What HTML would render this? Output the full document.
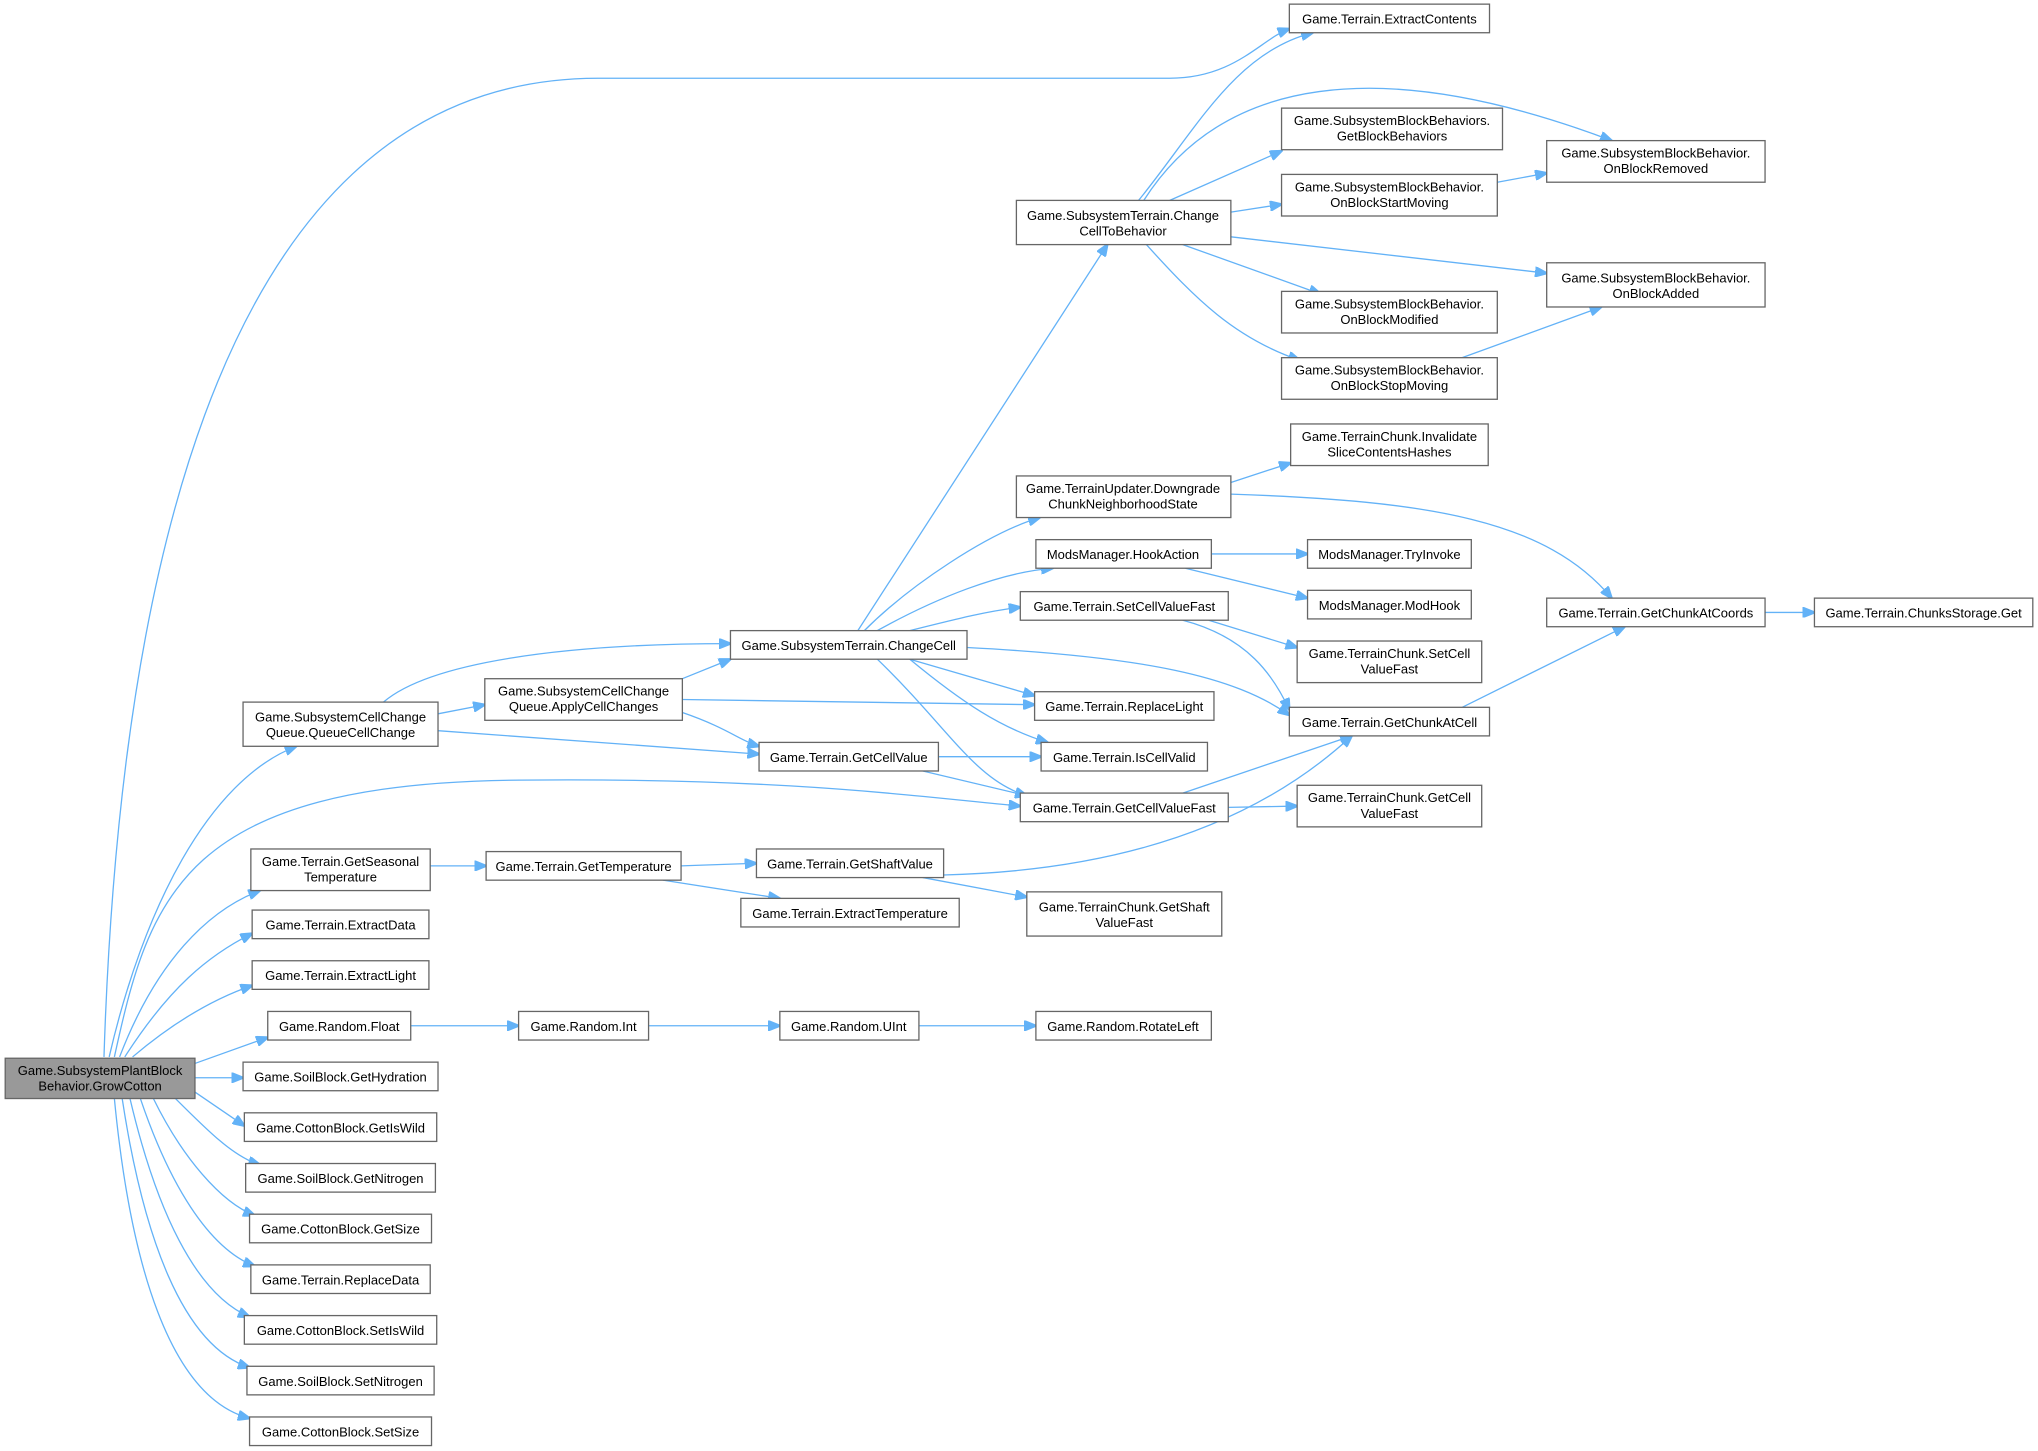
<!DOCTYPE html>
<html><head><meta charset="utf-8"><style>
html,body{margin:0;padding:0;background:#fff}
svg{display:block}
text{font-family:"Liberation Sans",Arial,sans-serif;font-size:10px;fill:#000;text-anchor:middle}
rect{fill:#fff;stroke:#666;stroke-width:1}
path{fill:none;stroke:#63b2f7;stroke-width:1}
</style></head><body>
<svg width="2038" height="1451" viewBox="0 0 1568 1116" xmlns="http://www.w3.org/2000/svg">
<defs><marker id="a" markerWidth="10" markerHeight="8" refX="9" refY="4" orient="auto" markerUnits="userSpaceOnUse"><path d="M0,0 L10,4 L0,8 Z" style="fill:#63b2f7;stroke:#63b2f7"/></marker></defs>
<g marker-end="url(#a)">
<path d="M80,813 C90,500 150,60 460,60 L900,60 C950,60 970,30 992,22"/>
<path d="M84,813 C110,700 160,600 228,574"/>
<path d="M88,813 C115,690 140,602 400,600 C600,598 700,612 785,620"/>
<path d="M92,813 C120,740 160,700 200,685"/>
<path d="M96,813 C130,760 160,735 194,718"/>
<path d="M102,813 C135,785 165,768 194,758"/>
<path d="M150,818 L206,798"/>
<path d="M150,829 L187,829"/>
<path d="M150,840 L188,866"/>
<path d="M135,845 C160,870 180,890 200,896"/>
<path d="M118,845 C140,890 170,925 196,935"/>
<path d="M108,845 C130,910 160,960 196,974"/>
<path d="M100,845 C120,930 150,995 192,1013"/>
<path d="M94,845 C110,950 140,1035 192,1052"/>
<path d="M88,845 C100,970 130,1075 192,1091"/>
<path d="M295,540 C330,510 430,495 562,495"/>
<path d="M337,549 L373,542"/>
<path d="M337,562 L584,580"/>
<path d="M525,522 L562,507"/>
<path d="M525,538 L796,542"/>
<path d="M525,548 C560,560 570,570 584,574"/>
<path d="M660,485 L852,188"/>
<path d="M665,485 C700,450 760,410 800,398"/>
<path d="M675,485 C720,460 770,440 810,437"/>
<path d="M700,485 C740,475 760,470 785,467"/>
<path d="M744,498 C880,505 950,520 992,550"/>
<path d="M700,507 L796,535"/>
<path d="M700,507 C740,540 770,560 806,571"/>
<path d="M675,507 C730,560 750,600 790,612"/>
<path d="M722,582 L801,582"/>
<path d="M710,593 L790,612"/>
<path d="M876,154 C920,100 950,40 1010,25"/>
<path d="M880,154 C940,60 1060,40 1240,108"/>
<path d="M900,154 L986,116"/>
<path d="M947,163 L986,157"/>
<path d="M947,182 L1190,210"/>
<path d="M910,188 L1016,226"/>
<path d="M882,188 C920,230 950,260 1000,277"/>
<path d="M1152,140 L1190,133"/>
<path d="M1125,275 L1232,236"/>
<path d="M947,371 L993,356"/>
<path d="M947,380 C1100,385 1190,400 1240,460"/>
<path d="M932,426 L1006,426"/>
<path d="M912,437 L1006,460"/>
<path d="M910,477 C960,490 980,520 992,546"/>
<path d="M930,477 L998,498"/>
<path d="M1125,544 L1250,482"/>
<path d="M1358,471 L1396,471"/>
<path d="M910,610 L1040,566"/>
<path d="M945,621 L998,620"/>
<path d="M726,673 C850,670 960,640 1040,566"/>
<path d="M710,675 L790,690"/>
<path d="M331,666 L374,666"/>
<path d="M524,666 L582,664"/>
<path d="M510,677 L600,691"/>
<path d="M316,789 L399,789"/>
<path d="M499,789 L600,789"/>
<path d="M707,789 L797,789"/>
</g>
<rect x="4" y="814" width="146" height="31" style="fill:#999"/>
<text x="77" y="827">Game.SubsystemPlantBlock</text><text x="77" y="839">Behavior.GrowCotton</text>
<rect x="992" y="3" width="154" height="22"/><text x="1069" y="18">Game.Terrain.ExtractContents</text>
<rect x="986" y="83" width="170" height="32"/><text x="1071" y="96">Game.SubsystemBlockBehaviors.</text><text x="1071" y="108">GetBlockBehaviors</text>
<rect x="1190" y="108" width="168" height="32"/><text x="1274" y="121">Game.SubsystemBlockBehavior.</text><text x="1274" y="133">OnBlockRemoved</text>
<rect x="782" y="154" width="165" height="34"/><text x="864" y="169">Game.SubsystemTerrain.Change</text><text x="864" y="181">CellToBehavior</text>
<rect x="986" y="134" width="166" height="32"/><text x="1069" y="147">Game.SubsystemBlockBehavior.</text><text x="1069" y="159">OnBlockStartMoving</text>
<rect x="1190" y="202" width="168" height="34"/><text x="1274" y="217">Game.SubsystemBlockBehavior.</text><text x="1274" y="229">OnBlockAdded</text>
<rect x="986" y="224" width="166" height="32"/><text x="1069" y="237">Game.SubsystemBlockBehavior.</text><text x="1069" y="249">OnBlockModified</text>
<rect x="986" y="275" width="166" height="32"/><text x="1069" y="288">Game.SubsystemBlockBehavior.</text><text x="1069" y="300">OnBlockStopMoving</text>
<rect x="993" y="326" width="152" height="32"/><text x="1069" y="339">Game.TerrainChunk.Invalidate</text><text x="1069" y="351">SliceContentsHashes</text>
<rect x="782" y="366" width="165" height="32"/><text x="864" y="379">Game.TerrainUpdater.Downgrade</text><text x="864" y="391">ChunkNeighborhoodState</text>
<rect x="797" y="415" width="135" height="22"/><text x="864" y="430">ModsManager.HookAction</text>
<rect x="1006" y="415" width="126" height="22"/><text x="1069" y="430">ModsManager.TryInvoke</text>
<rect x="1006" y="454" width="126" height="22"/><text x="1069" y="469">ModsManager.ModHook</text>
<rect x="785" y="455" width="160" height="22"/><text x="865" y="470">Game.Terrain.SetCellValueFast</text>
<rect x="1190" y="460" width="168" height="22"/><text x="1274" y="475">Game.Terrain.GetChunkAtCoords</text>
<rect x="1396" y="460" width="168" height="22"/><text x="1480" y="475">Game.Terrain.ChunksStorage.Get</text>
<rect x="998" y="493" width="142" height="32"/><text x="1069" y="506">Game.TerrainChunk.SetCell</text><text x="1069" y="518">ValueFast</text>
<rect x="562" y="485" width="182" height="22"/><text x="653" y="500">Game.SubsystemTerrain.ChangeCell</text>
<rect x="373" y="522" width="152" height="32"/><text x="449" y="535">Game.SubsystemCellChange</text><text x="449" y="547">Queue.ApplyCellChanges</text>
<rect x="187" y="540" width="150" height="34"/><text x="262" y="555">Game.SubsystemCellChange</text><text x="262" y="567">Queue.QueueCellChange</text>
<rect x="796" y="532" width="138" height="22"/><text x="865" y="547">Game.Terrain.ReplaceLight</text>
<rect x="992" y="544" width="154" height="22"/><text x="1069" y="559">Game.Terrain.GetChunkAtCell</text>
<rect x="584" y="571" width="138" height="22"/><text x="653" y="586">Game.Terrain.GetCellValue</text>
<rect x="801" y="571" width="128" height="22"/><text x="865" y="586">Game.Terrain.IsCellValid</text>
<rect x="785" y="610" width="160" height="22"/><text x="865" y="625">Game.Terrain.GetCellValueFast</text>
<rect x="998" y="604" width="142" height="32"/><text x="1069" y="617">Game.TerrainChunk.GetCell</text><text x="1069" y="629">ValueFast</text>
<rect x="193" y="653" width="138" height="32"/><text x="262" y="666">Game.Terrain.GetSeasonal</text><text x="262" y="678">Temperature</text>
<rect x="374" y="655" width="150" height="22"/><text x="449" y="670">Game.Terrain.GetTemperature</text>
<rect x="582" y="653" width="144" height="22"/><text x="654" y="668">Game.Terrain.GetShaftValue</text>
<rect x="570" y="691" width="168" height="22"/><text x="654" y="706">Game.Terrain.ExtractTemperature</text>
<rect x="790" y="686" width="150" height="34"/><text x="865" y="701">Game.TerrainChunk.GetShaft</text><text x="865" y="713">ValueFast</text>
<rect x="194" y="700" width="136" height="22"/><text x="262" y="715">Game.Terrain.ExtractData</text>
<rect x="194" y="739" width="136" height="22"/><text x="262" y="754">Game.Terrain.ExtractLight</text>
<rect x="206" y="778" width="110" height="22"/><text x="261" y="793">Game.Random.Float</text>
<rect x="399" y="778" width="100" height="22"/><text x="449" y="793">Game.Random.Int</text>
<rect x="600" y="778" width="107" height="22"/><text x="653" y="793">Game.Random.UInt</text>
<rect x="797" y="778" width="135" height="22"/><text x="864" y="793">Game.Random.RotateLeft</text>
<rect x="187" y="817" width="150" height="22"/><text x="262" y="832">Game.SoilBlock.GetHydration</text>
<rect x="188" y="856" width="148" height="22"/><text x="262" y="871">Game.CottonBlock.GetIsWild</text>
<rect x="189" y="895" width="146" height="22"/><text x="262" y="910">Game.SoilBlock.GetNitrogen</text>
<rect x="192" y="934" width="140" height="22"/><text x="262" y="949">Game.CottonBlock.GetSize</text>
<rect x="193" y="973" width="138" height="22"/><text x="262" y="988">Game.Terrain.ReplaceData</text>
<rect x="188" y="1012" width="148" height="22"/><text x="262" y="1027">Game.CottonBlock.SetIsWild</text>
<rect x="190" y="1051" width="144" height="22"/><text x="262" y="1066">Game.SoilBlock.SetNitrogen</text>
<rect x="192" y="1090" width="140" height="22"/><text x="262" y="1105">Game.CottonBlock.SetSize</text>
</svg>
</body></html>
